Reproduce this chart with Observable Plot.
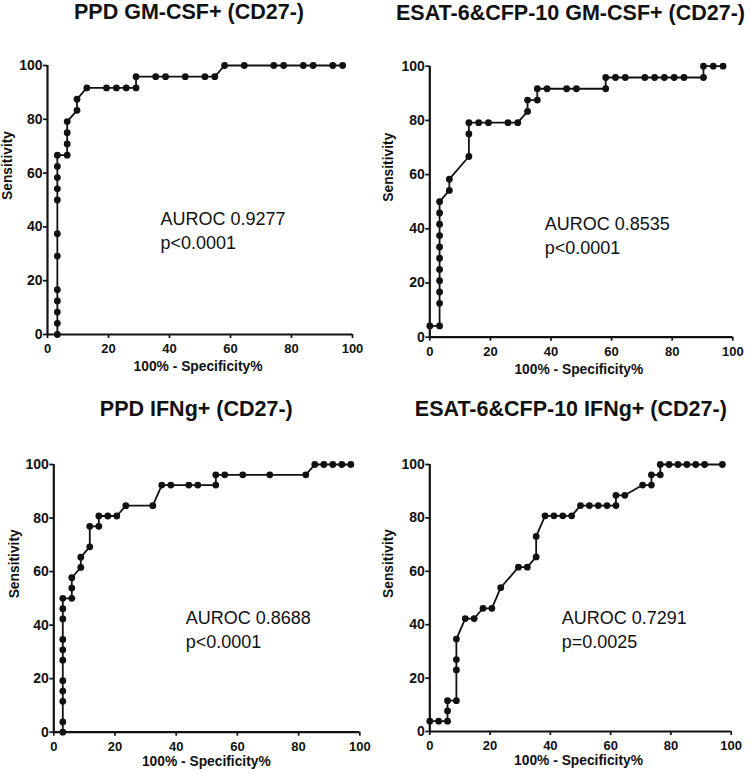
<!DOCTYPE html>
<html><head><meta charset="utf-8">
<script src="https://cdn.jsdelivr.net/npm/d3@7"></script>
<script src="https://cdn.jsdelivr.net/npm/@observablehq/plot@0.6"></script>
<style>
body{margin:0;background:#fff;}
#wrap{position:relative;width:750px;height:773px;overflow:hidden;}
#wrap svg{position:absolute;}
</style></head><body><div id="wrap"></div>
<script>
// ---------- data ----------
const titles = ["PPD GM-CSF+ (CD27-)", "ESAT-6&CFP-10 GM-CSF+ (CD27-)", "PPD IFNg+ (CD27-)", "ESAT-6&CFP-10 IFNg+ (CD27-)"];
const aurocs = ["AUROC 0.9277", "AUROC 0.8535", "AUROC 0.8688", "AUROC 0.7291"];
const pvals = ["p<0.0001", "p<0.0001", "p<0.0001", "p=0.0025"];
const xTicks = [0, 20, 40, 60, 80, 100];
const yTicks = [0, 20, 40, 60, 80, 100];
const xLabel = "100% - Specificity%";
const yLabel = "Sensitivity";

const p1x = [3.23,3.23,3.23,3.23,3.23,3.23,3.23,3.23,3.23,3.23,3.23,3.23,6.45,6.45,6.45,6.45,9.68,9.68,12.9,19.35,22.58,25.81,29.03,29.03,35.48,38.71,45.16,51.61,54.84,58.06,64.52,74.19,77.42,83.87,87.1,93.55,96.77];
const p1y = [0,4.17,8.33,12.5,16.67,29.17,37.5,50,54.17,58.33,62.5,66.67,66.67,70.83,75,79.17,83.33,87.5,91.67,91.67,91.67,91.67,91.67,95.83,95.83,95.83,95.83,95.83,95.83,100,100,100,100,100,100,100,100];

const p2x = [0,3.23,3.23,3.23,3.23,3.23,3.23,3.23,3.23,3.23,3.23,3.23,6.45,6.45,12.9,12.9,12.9,16.13,19.35,25.81,29.03,32.26,32.26,35.48,35.48,38.71,45.16,48.39,58.06,58.06,61.29,64.52,70.97,74.19,77.42,80.65,83.87,90.32,90.32,93.55,96.77];
const p2y = [4.17,4.17,12.5,16.67,20.83,25,29.17,33.33,37.5,41.67,45.83,50,54.17,58.33,66.67,75,79.17,79.17,79.17,79.17,79.17,83.33,87.5,87.5,91.67,91.67,91.67,91.67,91.67,95.83,95.83,95.83,95.83,95.83,95.83,95.83,95.83,95.83,100,100,100];

const p3x = [2.94,2.94,2.94,2.94,2.94,2.94,2.94,2.94,2.94,2.94,2.94,5.88,5.88,5.88,8.82,8.82,11.76,11.76,14.71,14.71,17.65,20.59,23.53,32.35,35.29,38.24,44.12,47.06,52.94,52.94,55.88,61.76,70.59,82.35,85.29,88.24,91.18,94.12,97.06];
const p3y = [0,3.85,11.54,15.38,19.23,26.92,30.77,34.62,42.31,46.15,50,50,53.85,57.69,61.54,65.38,69.23,76.92,76.92,80.77,80.77,80.77,84.62,84.62,92.31,92.31,92.31,92.31,92.31,96.15,96.15,96.15,96.15,96.15,100,100,100,100,100];

const p4x = [0,2.94,5.88,5.88,5.88,8.82,8.82,8.82,8.82,11.76,14.71,17.65,20.59,23.53,29.41,32.35,35.29,35.29,38.24,41.18,44.12,47.06,50,52.94,55.88,58.82,61.76,61.76,64.71,70.59,73.53,73.53,76.47,76.47,79.41,82.35,85.29,88.24,91.18,97.06];
const p4y = [3.85,3.85,3.85,7.69,11.54,11.54,23.08,26.92,34.62,42.31,42.31,46.15,46.15,53.85,61.54,61.54,65.38,73.08,80.77,80.77,80.77,80.77,84.62,84.62,84.62,84.62,84.62,88.46,88.46,92.31,92.31,96.15,96.15,100,100,100,100,100,100,100];

const seriesX = [p1x, p2x, p3x, p4x];
const seriesY = [p1y, p2y, p3y, p4y];

// ---------- layout ----------
const layout = [
  {left: 0,   top: 0,   width: 375, height: 390, mt: 65,   mb: 56,   ml: 47,   mr: 23,
   title: [-11, -53.1], ann: [113, 142], ylab: -39.5, xlab: [-2, 32.5], lh: 1.36},
  {left: 375, top: 0,   width: 375, height: 390, mt: 65.7, mb: 53.3, ml: 54.3, mr: 17.7,
   title: [-10.8, -52.9], ann: [115, 147.5], ylab: -41, xlab: [-2.5, 32.8], lh: 1.3},
  {left: 0,   top: 390, width: 375, height: 383, mt: 74,   mb: 41.3, ml: 53.3, mr: 15.7,
   title: [-10.5, -55.4], ann: [132, 143], ylab: -39.3, xlab: [-0.5, 29.5], lh: 1.3},
  {left: 375, top: 390, width: 375, height: 383, mt: 74,   mb: 42,   ml: 54.3, mr: 19.3,
   title: [-9.7, -54.9], ann: [132, 143], ylab: -41, xlab: [-2, 29.5], lh: 1.3}
];

const ink = "#111";
const font = "'Liberation Sans', Arial, Helvetica, sans-serif";
const wrap = document.getElementById("wrap");

layout.forEach((L, i) => {
  const pts = seriesX[i].map((x, j) => ({x, y: seriesY[i][j]}));
  const chart = Plot.plot({
    width: L.width,
    height: L.height,
    marginTop: L.mt, marginBottom: L.mb, marginLeft: L.ml, marginRight: L.mr,
    style: {fontFamily: font, background: "transparent", overflow: "visible", color: ink},
    x: {domain: [0, 100]},
    y: {domain: [0, 100]},
    marks: [
      Plot.axisX({ticks: xTicks, tickSize: 4, tickPadding: 5.5, fontSize: 13, fontWeight: "bold",
                  strokeWidth: 1.7, stroke: ink, fill: ink, label: null}),
      Plot.axisY({ticks: yTicks, tickSize: 4, tickPadding: 1, fontSize: 14, fontWeight: "bold",
                  strokeWidth: 1.7, stroke: ink, fill: ink, label: null}),
      Plot.ruleX([0], {stroke: ink, strokeWidth: 2.2}),
      Plot.ruleY([0], {stroke: ink, strokeWidth: 2.2}),
      Plot.line(pts, {x: "x", y: "y", stroke: ink, strokeWidth: 1.8, curve: "linear"}),
      Plot.dot(pts, {x: "x", y: "y", r: 3.4, fill: ink, stroke: "none"}),
      Plot.text([titles[i]], {frameAnchor: "top", dx: L.title[0], dy: L.title[1], fontSize: 21.5,
                              fontWeight: "bold", fill: ink, lineAnchor: "middle"}),
      Plot.text([aurocs[i] + "\n" + pvals[i]], {frameAnchor: "top-left", textAnchor: "start",
                              lineAnchor: "top", dx: L.ann[0], dy: L.ann[1], fontSize: 18,
                              lineHeight: L.lh, fill: ink}),
      Plot.text([yLabel], {frameAnchor: "left", rotate: -90, dx: L.ylab, fontSize: 13.8,
                           fontWeight: "bold", fill: ink, lineAnchor: "middle"}),
      Plot.text([xLabel], {frameAnchor: "bottom", dx: L.xlab[0], dy: L.xlab[1], fontSize: 13.8,
                           fontWeight: "bold", fill: ink, lineAnchor: "middle"})
    ]
  });
  chart.style.left = L.left + "px";
  chart.style.top = L.top + "px";
  wrap.appendChild(chart);
});
</script>
</body></html>
